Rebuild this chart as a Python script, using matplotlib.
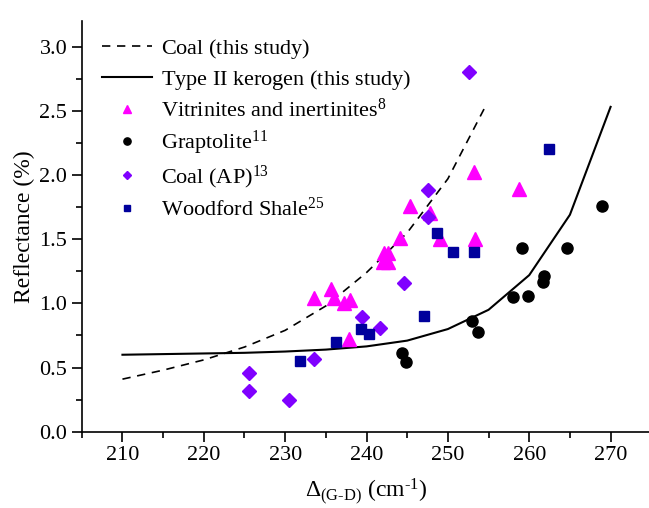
import matplotlib
matplotlib.use("Agg")
import matplotlib.pyplot as plt
from matplotlib.ticker import MultipleLocator

plt.rcParams['font.family'] = ['Liberation Serif', 'DejaVu Serif']
plt.rcParams['mathtext.fontset'] = 'custom'
plt.rcParams['mathtext.rm'] = 'Liberation Serif'
plt.rcParams['mathtext.it'] = 'Liberation Serif:italic'

# curves from this study
coal_x = [210, 215, 220, 225, 230, 235, 240, 245, 250, 254.5]
coal_y = [0.41, 0.48, 0.56, 0.66, 0.79, 0.98, 1.24, 1.55, 1.97, 2.52]

kerogen_x = [210, 215, 220, 225, 230, 235, 240, 245, 250, 255, 260, 265, 270]
kerogen_y = [0.60, 0.605, 0.61, 0.615, 0.625, 0.64, 0.665, 0.71, 0.80, 0.95, 1.22, 1.69, 2.53]

# literature data
vit_x = [233.6, 235.6, 236.0, 237.2, 238.0, 237.8, 242.0, 242.6, 242.2, 242.7,
         244.1, 245.3, 247.8, 249.0, 253.3, 253.2, 258.8]
vit_y = [1.04, 1.11, 1.04, 1.00, 1.03, 0.72, 1.32, 1.32, 1.39, 1.39,
         1.51, 1.76, 1.70, 1.50, 1.50, 2.02, 1.89]

grap_x = [244.4, 244.9, 253.0, 253.7, 258.0, 259.8, 259.1, 261.7, 261.8, 264.6, 269.0]
grap_y = [0.61, 0.54, 0.86, 0.78, 1.05, 1.06, 1.43, 1.17, 1.21, 1.43, 1.76]

ap_x = [225.6, 225.6, 230.5, 233.6, 239.5, 241.6, 244.6, 247.5, 247.5, 252.6]
ap_y = [0.46, 0.32, 0.25, 0.57, 0.89, 0.81, 1.16, 1.67, 1.88, 2.80]

wood_x = [231.8, 236.2, 239.3, 240.3, 247.1, 248.7, 250.6, 253.2, 262.4]
wood_y = [0.55, 0.70, 0.80, 0.76, 0.90, 1.55, 1.40, 1.40, 2.20]

fig = plt.figure(figsize=(6.49, 5.08), dpi=100)
ax = fig.add_axes([0.126, 0.150, 0.8775, 0.809])

# empty superscript keeps all legend rows the same height
ax.plot(coal_x, coal_y, 'k--', lw=1.2, dashes=(5, 4),
        label=r'Coal (this study)$^{\,}$')
ax.plot(kerogen_x, kerogen_y, 'k-', lw=1.5,
        label=r'Type II kerogen (this study)$^{\,}$')
ax.plot(vit_x, vit_y, '^', color='#FF00FF', ms=9.5, ls='none',
        label='Vitrinites and inertinites$^{8}$')
ax.plot(grap_x, grap_y, 'o', color='black', ms=8, ls='none',
        label='Graptolite$^{11}$')
ax.plot(ap_x, ap_y, 'D', color='#8000FF', ms=7, ls='none',
        label='Coal (AP)$^{13}$')
ax.plot(wood_x, wood_y, 's', color='#00009C', ms=6.5, ls='none',
        label='Woodford Shale$^{25}$')

ax.set_xlim(205, 275)
ax.set_ylim(0, 3.2)
ax.xaxis.set_major_locator(MultipleLocator(10))
ax.xaxis.set_minor_locator(MultipleLocator(5))
ax.yaxis.set_major_locator(MultipleLocator(0.5))
ax.yaxis.set_minor_locator(MultipleLocator(0.25))
ax.yaxis.set_major_formatter(matplotlib.ticker.FormatStrFormatter('%.1f'))
ax.tick_params(which='major', direction='out', length=7, width=1.2, labelsize=16)
ax.tick_params(which='minor', direction='out', length=4, width=1.2)
for s in ['top', 'right']:
    ax.spines[s].set_visible(False)
for s in ['left', 'bottom']:
    ax.spines[s].set_linewidth(1.2)

ax.set_xlabel(r'$\Delta_{\mathrm{(G\text{-}D)}}$ (cm$^{\text{-}1}$)', fontsize=17,
              labelpad=8)
ax.set_ylabel('Reflectance (%)', fontsize=17, labelpad=3)

ax.legend(loc='upper left', frameon=False, fontsize=16, markerscale=0.65,
          handlelength=2.25, handletextpad=0.4, labelspacing=0.31,
          borderaxespad=0.5, bbox_to_anchor=(0.0, 1.01))

fig.savefig('out.png', dpi=100)
